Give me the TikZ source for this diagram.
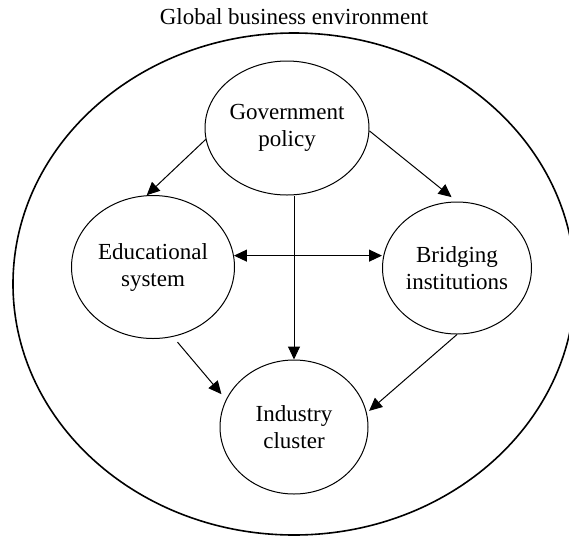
\documentclass[tikz,border=0pt]{standalone}
\usepackage{fontspec}
\setmainfont{Liberation Serif}
\usetikzlibrary{arrows.meta,shapes.geometric}

\begin{document}
\begin{tikzpicture}[x=0.5pt,y=-0.5pt,->,>={Triangle[length=6.5pt,width=6pt]},
  line width=0.5pt,
  main node/.style={ellipse,draw,inner sep=0pt,align=center,font=\fontsize{11.5}{13.5}\selectfont}]

  \useasboundingbox (0,0) rectangle (569,537);
  \clip (0,0) rectangle (569,537);

  \node[main node,line width=0.8pt,minimum width=281pt,minimum height=251pt] (env) at (294,284) {};
  \node[font=\fontsize{11.5}{13.5}\selectfont] (title) at (294,17) {Global business environment};

  \node[main node,minimum width=82pt,minimum height=67pt] (gov) at (287,128) {Government\\policy};
  \node[main node,minimum width=81.5pt,minimum height=71.5pt] (edu) at (153,267) {Educational\\system};
  \node[main node,minimum width=74.5pt,minimum height=66pt] (bri) at (457,268) {Bridging\\institutions};
  \node[main node,minimum width=74pt,minimum height=67pt] (ind) at (294,427) {Industry\\cluster};

  \path
    (gov.188) edge (edu.95)
    (gov.358) edge [shorten >=3.5pt] (bri.north)
    (gov.south -| ind.north) edge (ind.north)
    (edu.8) edge [<->] (edu.8 -| bri.west)
    (edu.286) edge [shorten <=3.5pt,shorten >=3.5pt] (ind.158)
    (bri.south) edge [shorten >=1.5pt] (ind.11);
\end{tikzpicture}
\end{document}
